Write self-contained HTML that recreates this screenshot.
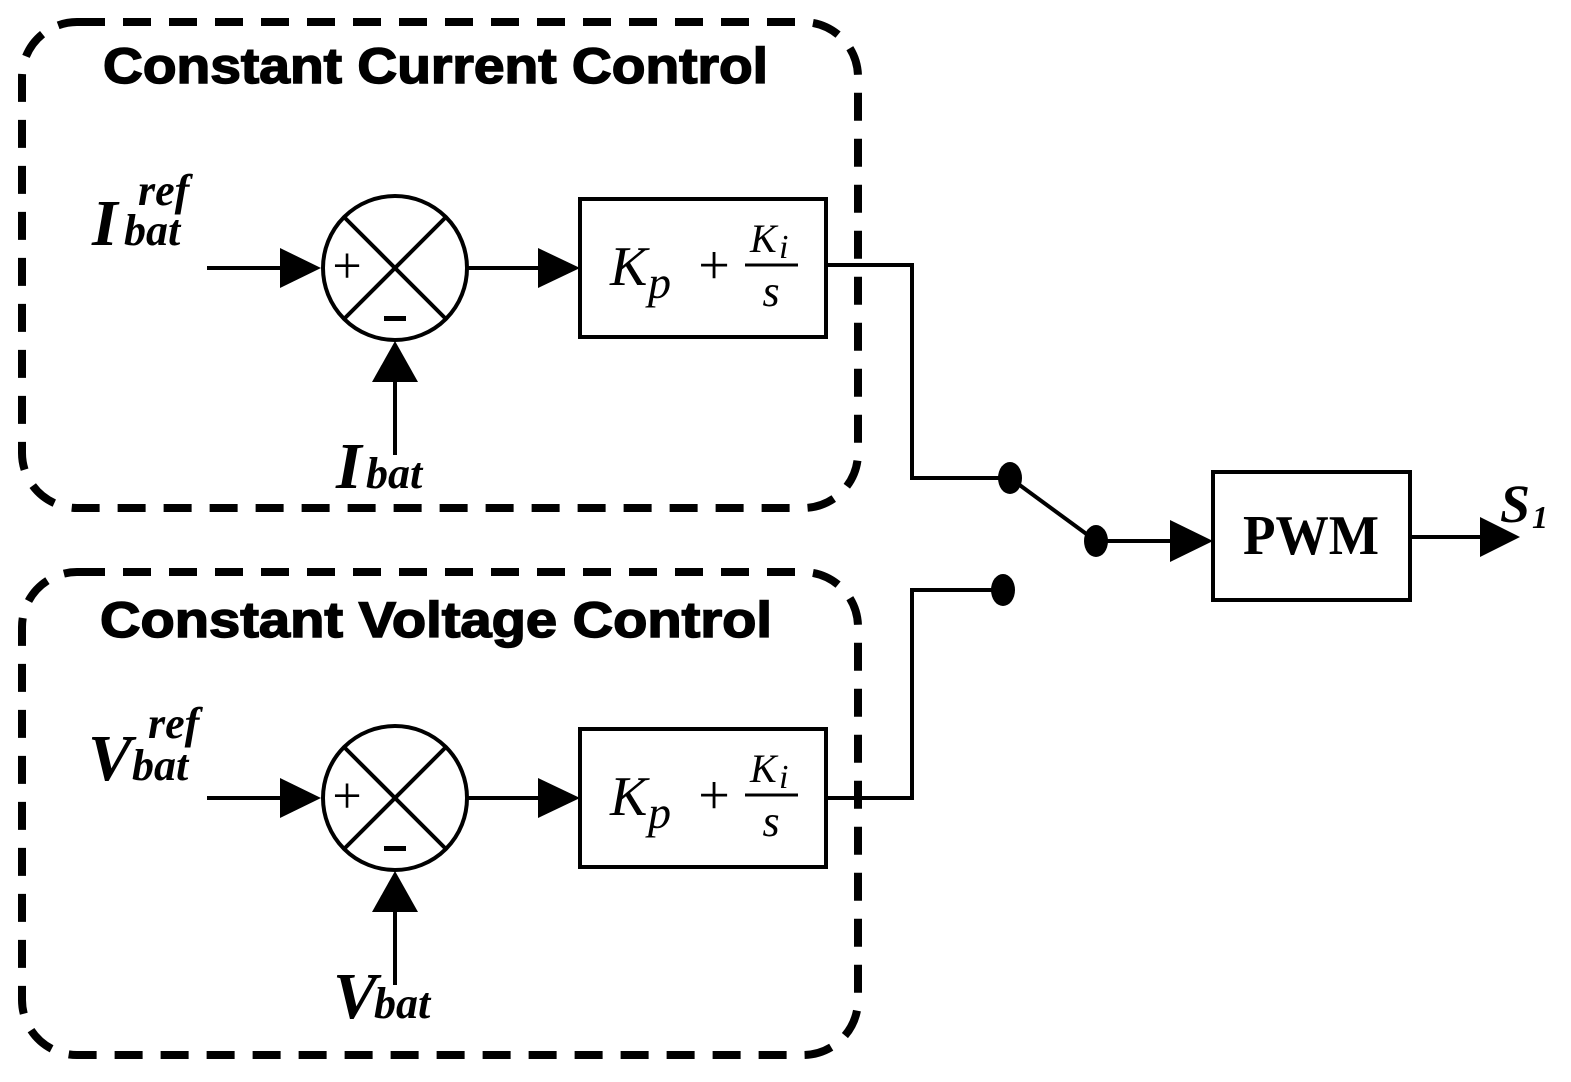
<!DOCTYPE html>
<html><head><meta charset="utf-8"><style>html,body{margin:0;padding:0;background:#fff}svg{display:block}</style></head><body>
<svg width="1571" height="1082" viewBox="0 0 1571 1082" xmlns="http://www.w3.org/2000/svg">
<defs>
<g id="blk">
  <circle cx="395" cy="0" r="72" fill="none" stroke="#000" stroke-width="4"/>
  <line x1="344" y1="-51" x2="446" y2="51" stroke="#000" stroke-width="4"/>
  <line x1="446" y1="-51" x2="344" y2="51" stroke="#000" stroke-width="4"/>
  <text x="347" y="15" font-family="Liberation Serif" font-size="52" text-anchor="middle">+</text>
  <rect x="384" y="48" width="22" height="5" fill="#000"/>
  <line x1="207" y1="0" x2="285" y2="0" stroke="#000" stroke-width="4"/>
  <polygon points="280,-20 321,0 280,20" fill="#000"/>
  <line x1="467" y1="0" x2="545" y2="0" stroke="#000" stroke-width="4"/>
  <polygon points="538,-20 580,0 538,20" fill="#000"/>
  <rect x="580" y="-69" width="246" height="138" fill="none" stroke="#000" stroke-width="4"/>
  <text x="610" y="17" font-family="Liberation Serif" font-style="italic" font-size="56">K</text>
  <text x="648" y="30" font-family="Liberation Serif" font-style="italic" font-size="46">p</text>
  <text x="714" y="16" font-family="Liberation Serif" font-size="56" text-anchor="middle">+</text>
  <text x="750" y="-16" font-family="Liberation Serif" font-style="italic" font-size="40">K</text>
  <text x="779" y="-10" font-family="Liberation Serif" font-style="italic" font-size="34">i</text>
  <line x1="745" y1="-3" x2="798" y2="-3" stroke="#000" stroke-width="3"/>
  <text x="771" y="38" font-family="Liberation Serif" font-style="italic" font-size="44" text-anchor="middle">s</text>
</g>
</defs>
<g fill="none" stroke="#000" stroke-width="8" stroke-dasharray="28 18">
  <rect x="22" y="22" width="836" height="486" rx="55"/>
  <rect x="22" y="572" width="836" height="483" rx="55"/>
</g>
<text x="103" y="83" font-family="Liberation Sans" font-weight="bold" font-size="50" stroke="#000" stroke-width="1.5" textLength="665" lengthAdjust="spacingAndGlyphs">Constant Current Control</text>
<text x="100" y="637" font-family="Liberation Sans" font-weight="bold" font-size="50" stroke="#000" stroke-width="1.5" textLength="672" lengthAdjust="spacingAndGlyphs">Constant Voltage Control</text>
<use href="#blk" transform="translate(0,268)"/>
<use href="#blk" transform="translate(0,798)"/>
<line x1="395" y1="455" x2="395" y2="375" stroke="#000" stroke-width="4"/>
<polygon points="372,382 395,341 418,382" fill="#000"/>
<line x1="395" y1="985" x2="395" y2="905" stroke="#000" stroke-width="4"/>
<polygon points="372,912 395,871 418,912" fill="#000"/>
<g font-family="Liberation Serif" font-style="italic" font-weight="bold" fill="#000">
  <text x="92" y="245" font-size="66">I</text>
  <text x="138" y="205" font-size="44">ref</text>
  <text x="124" y="245" font-size="44">bat</text>
  <text x="336" y="488" font-size="66">I</text>
  <text x="366" y="488" font-size="44">bat</text>
  <text x="88" y="780" font-size="66">V</text>
  <text x="148" y="738" font-size="44">ref</text>
  <text x="132" y="780" font-size="44">bat</text>
  <text x="333" y="1018" font-size="66">V</text>
  <text x="374" y="1018" font-size="44">bat</text>
  <text x="1500" y="522" font-size="54">S</text>
  <text x="1532" y="528" font-size="32">1</text>
</g>
<g stroke="#000" stroke-width="4" fill="none">
  <polyline points="826,265 912,265 912,478 1010,478"/>
  <polyline points="826,798 912,798 912,590 1003,590"/>
  <line x1="1010" y1="478" x2="1096" y2="541"/>
  <line x1="1096" y1="541" x2="1175" y2="541"/>
  <rect x="1213" y="472" width="197" height="128"/>
  <line x1="1410" y1="537" x2="1485" y2="537"/>
</g>
<ellipse cx="1010" cy="478" rx="12" ry="16" fill="#000"/>
<ellipse cx="1096" cy="541" rx="12" ry="16" fill="#000"/>
<ellipse cx="1003" cy="590" rx="12" ry="16" fill="#000"/>
<polygon points="1170,520 1213,541 1170,562" fill="#000"/>
<polygon points="1480,517 1520,537 1480,557" fill="#000"/>
<text x="1311" y="554" font-family="Liberation Serif" font-weight="bold" font-size="56" text-anchor="middle" textLength="136" lengthAdjust="spacingAndGlyphs">PWM</text>
</svg>
</body></html>
